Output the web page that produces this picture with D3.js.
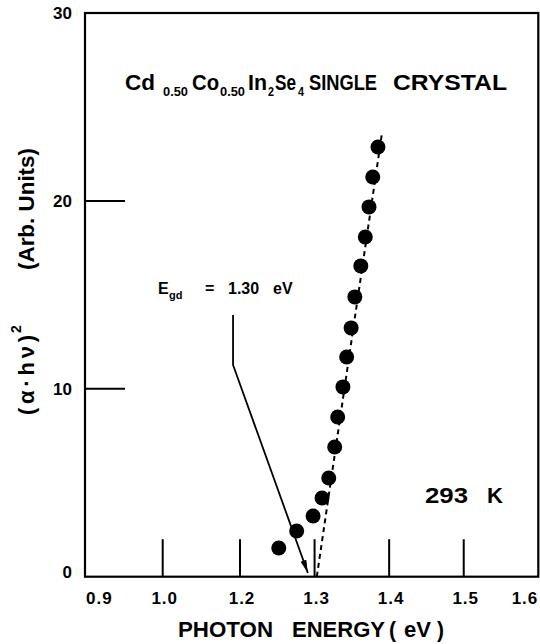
<!DOCTYPE html>
<html><head><meta charset="utf-8">
<script src="https://cdn.jsdelivr.net/npm/d3@7"></script>
<style>
html,body{margin:0;padding:0;background:#fff;}
svg{display:block;}
text{font-family:"Liberation Sans",Arial,Helvetica,sans-serif;font-weight:bold;fill:#000;}
</style></head>
<body>
<svg id="chart" width="540" height="644"></svg>
<script>
// ---- data ----
const photonEnergy = [1.252,1.276,1.298,1.310,1.319,1.327,1.331,1.338,1.343,1.349,1.354,1.362,1.368,1.373,1.378,1.385];
const alphaHnuSq   = [1.53,2.43,3.23,4.19,5.25,6.90,8.50,10.10,11.69,13.24,14.89,16.54,18.08,19.68,21.27,22.87];
const fitEnergy = [1.303, 1.390];
const fitValue  = [0, 23.5];
const arrowEnergy = [1.182, 1.182, 1.291];
const arrowValue  = [13.93, 11.27, 0.2];
const xTickValues = [0.9, 1.0, 1.2, 1.3, 1.4, 1.5, 1.6];
const xTickLabels = ["0.9", "1.0", "1.2", "1.3", "1.4", "1.5", "1.6"];
const yTickValues = [0, 10, 20, 30];
const yTickLabels = ["0", "10", "20", "30"];

const svg = d3.select("#chart");
// broken (polylinear) energy axis as in the original figure
const x = d3.scaleLinear().domain([0.9, 1.0, 1.2, 1.6]).range([85, 162.7, 240, 538.3]);
const y = d3.scaleLinear().domain([0, 30]).range([576.7, 13]);

const x0 = x(0.9), x1 = x(1.6), y0 = y(0), y1 = y(30);

// frame
svg.append("rect").attr("x", x0).attr("y", y1).attr("width", x1 - x0).attr("height", y0 - y1)
  .attr("fill", "none").attr("stroke", "#000").attr("stroke-width", 2.2);

// inward x ticks
svg.append("g").selectAll("line").data(xTickValues.filter(v => v > 0.9 && v < 1.6)).join("line")
  .attr("x1", d => x(d)).attr("x2", d => x(d)).attr("y1", y0).attr("y2", y0 - 37.5)
  .attr("stroke", "#000").attr("stroke-width", 2);
// inward y ticks
svg.append("g").selectAll("line").data(yTickValues.filter(v => v > 0 && v < 30)).join("line")
  .attr("x1", x0).attr("x2", x0 + 40).attr("y1", d => y(d)).attr("y2", d => y(d))
  .attr("stroke", "#000").attr("stroke-width", 2);

// x tick labels
svg.append("g").selectAll("text").data(xTickValues).join("text")
  .attr("x", (d, i) => i === 0 ? x(d) + 1 : (i === xTickValues.length - 1 ? x(d) : x(d) + 2))
  .attr("y", 604)
  .attr("text-anchor", (d, i) => i === 0 ? "start" : (i === xTickValues.length - 1 ? "end" : "middle"))
  .attr("font-size", 17).attr("letter-spacing", 1)
  .text((d, i) => xTickLabels[i]);

// y tick labels
svg.append("g").selectAll("text").data(yTickValues).join("text")
  .attr("x", 72).attr("y", d => y(d) + (d === 0 ? 1.5 : 6))
  .attr("text-anchor", "end").attr("font-size", 17)
  .text((d, i) => yTickLabels[i]);

// dashed fit line
const line = d3.line().x(d => x(d[0])).y(d => y(d[1]));
svg.append("path").datum(fitEnergy.map((e, i) => [e, fitValue[i]]))
  .attr("d", line).attr("fill", "none").attr("stroke", "#000")
  .attr("stroke-width", 2).attr("stroke-dasharray", "5,4");

// data points
svg.append("g").selectAll("circle").data(photonEnergy).join("circle")
  .attr("cx", d => x(d)).attr("cy", (d, i) => y(alphaHnuSq[i])).attr("r", 7.5).attr("fill", "#000");

// arrow annotation
svg.append("defs").append("marker").attr("id", "ah")
  .attr("markerUnits", "userSpaceOnUse").attr("markerWidth", 14).attr("markerHeight", 8)
  .attr("viewBox", "0 -4 14 8").attr("refX", 13).attr("refY", 0).attr("orient", "auto")
  .append("path").attr("d", "M0,-3L13,0L0,3Z").attr("fill", "#000");
svg.append("path").datum(arrowEnergy.map((e, i) => [e, arrowValue[i]]))
  .attr("d", line).attr("fill", "none").attr("stroke", "#000").attr("stroke-width", 1.8)
  .attr("marker-end", "url(#ah)");

// Egd label
const eg = svg.append("text").attr("x", 158).attr("y", 294).attr("font-size", 16);
eg.append("tspan").attr("x", 158).attr("y", 294).text("E");
eg.append("tspan").attr("x", 169).attr("y", 299).attr("font-size", 11).text("gd");
eg.append("tspan").attr("x", 205).attr("y", 294).text("=");
eg.append("tspan").attr("x", 228).attr("y", 294).text("1.30");
eg.append("tspan").attr("x", 273).attr("y", 294).text("eV");

// title
const title = [
  {t: "Cd", x: 125, sub: false, w: 30},
  {t: "0.50", x: 163, sub: true, w: 25},
  {t: "Co", x: 192, sub: false, w: 27},
  {t: "0.50", x: 220, sub: true, w: 25},
  {t: "In", x: 248, sub: false, w: 19},
  {t: "2", x: 268, sub: true, w: 6},
  {t: "Se", x: 275, sub: false, w: 21},
  {t: "4", x: 298, sub: true, w: 6},
  {t: "SINGLE", x: 309, sub: false, w: 68},
  {t: "CRYSTAL", x: 393, sub: false, w: 114}
];
const tt = svg.append("text").attr("x", 125).attr("y", 89.5).attr("font-size", 22);
title.forEach(d => {
  tt.append("tspan").attr("x", d.x).attr("y", d.sub ? 96 : 89.5)
    .attr("font-size", d.sub ? 13 : 22)
    .attr("textLength", d.w).attr("lengthAdjust", "spacingAndGlyphs")
    .text(d.t);
});

// temperature
const tk = svg.append("text").attr("x", 425).attr("y", 503).attr("font-size", 22);
tk.append("tspan").attr("x", 425).attr("textLength", 43).attr("lengthAdjust", "spacingAndGlyphs").text("293");
tk.append("tspan").attr("x", 487).text("K");

// x axis title
const xt = [
  {t: "PHOTON", x: 178, w: 95},
  {t: "ENERGY", x: 292, w: 93},
  {t: "(", x: 389, w: 7},
  {t: "eV", x: 404, w: 27},
  {t: ")", x: 437, w: 7}
];
const xl = svg.append("text").attr("x", 178).attr("y", 637).attr("font-size", 22);
xt.forEach(d => {
  xl.append("tspan").attr("x", d.x).attr("textLength", d.w).attr("lengthAdjust", "spacingAndGlyphs").text(d.t);
});

// y axis title (rotated)
const g1 = svg.append("g").attr("transform", "translate(34,270) rotate(-90)");
g1.append("text").attr("x", 0).attr("y", 0).attr("font-size", 22)
  .attr("textLength", 122).attr("lengthAdjust", "spacingAndGlyphs").text("(Arb. Units)");
const g2 = svg.append("g").attr("transform", "translate(34,415) rotate(-90)");
const t2 = g2.append("text").attr("x", 0).attr("y", 0).attr("font-size", 22);
t2.append("tspan").attr("x", 0).attr("textLength", 80).attr("lengthAdjust", "spacing").text("(α·hν)");
t2.append("tspan").attr("x", 82).attr("y", -13).attr("font-size", 14).text("2");
</script>
</body></html>
